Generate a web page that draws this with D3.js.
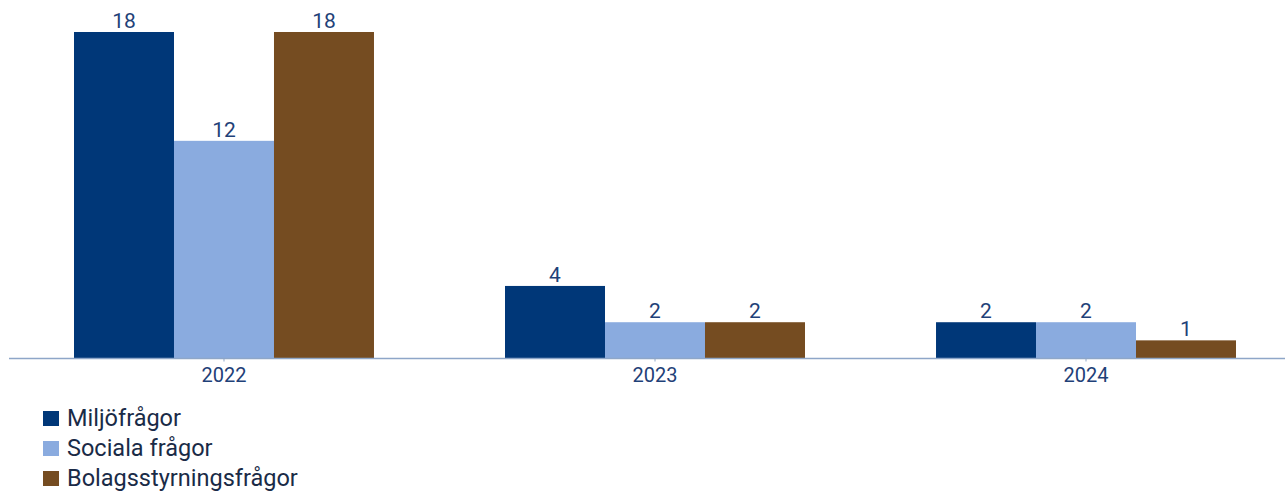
<!DOCTYPE html>
<html>
<head>
<meta charset="utf-8">
<script src="https://cdn.jsdelivr.net/npm/d3@7"></script>
<style>
  body { margin: 0; background: #fff; }
  svg { display: block; font-family: Roboto, "DejaVu Sans", sans-serif; }
</style>
</head>
<body>
<svg id="chart"></svg>
<script>
// data
const years = ["2022", "2023", "2024"];
const seriesNames = ["Miljöfrågor", "Sociala frågor", "Bolagsstyrningsfrågor"];
const miljo = [18, 4, 2];
const sociala = [12, 2, 2];
const bolag = [18, 2, 1];
const seriesColors = ["#003778", "#8aabdf", "#754c21"];

const width = 1285, height = 492;
const baseY = 358.5;

const svg = d3.select("#chart").attr("width", width).attr("height", height);

const series = [miljo, sociala, bolag];

// skalor
const x0 = d3.scaleBand().domain(years).range([74, 1236]).paddingInner(0.304).paddingOuter(0);
const x1 = d3.scaleBand().domain(seriesNames).range([0, x0.bandwidth()]);
const y = d3.scaleLinear().domain([0, 18]).range([baseY, 32]);

const groups = svg.selectAll(".year")
  .data(years)
  .enter()
  .append("g")
  .attr("class", "year")
  .attr("transform", d => `translate(${x0(d)},0)`);

groups.selectAll("rect")
  .data((d, i) => seriesNames.map((s, j) => ({ s, v: series[j][i], c: seriesColors[j] })))
  .enter()
  .append("rect")
  .attr("x", d => x1(d.s))
  .attr("y", d => y(d.v))
  .attr("width", x1.bandwidth())
  .attr("height", d => baseY - y(d.v))
  .attr("fill", d => d.c);

groups.selectAll("text")
  .data((d, i) => seriesNames.map((s, j) => ({ s, v: series[j][i] })))
  .enter()
  .append("text")
  .attr("x", d => x1(d.s) + x1.bandwidth() / 2)
  .attr("y", d => y(d.v) - 4)
  .attr("text-anchor", "middle")
  .attr("font-size", 21)
  .attr("fill", "#1f4178")
  .text(d => d.v);

// x-axel
svg.append("line")
  .attr("x1", 9).attr("x2", width)
  .attr("y1", baseY).attr("y2", baseY)
  .attr("stroke", "#8ea6c8").attr("stroke-width", 1.5);

const xAxis = svg.append("g")
  .attr("transform", `translate(0,${baseY})`)
  .call(d3.axisBottom(x0).tickSize(3).tickSizeOuter(0).tickPadding(6));
xAxis.select(".domain").remove();
xAxis.selectAll(".tick line").attr("stroke", "#8ea6c8");
xAxis.selectAll(".tick text")
  .attr("font-size", 20)
  .attr("font-family", "Roboto, 'DejaVu Sans', sans-serif")
  .attr("fill", "#1f4178");

// legend
const legend = svg.selectAll(".legend")
  .data(seriesNames)
  .enter()
  .append("g")
  .attr("class", "legend")
  .attr("transform", (d, i) => `translate(43,${411 + i * 30})`);

legend.append("rect")
  .attr("width", 16).attr("height", 15)
  .attr("fill", (d, i) => seriesColors[i]);

legend.append("text")
  .attr("x", 24)
  .attr("y", 15)
  .attr("font-size", 23.5)
  .attr("fill", "#1a2b47")
  .text(d => d);
</script>
</body>
</html>
